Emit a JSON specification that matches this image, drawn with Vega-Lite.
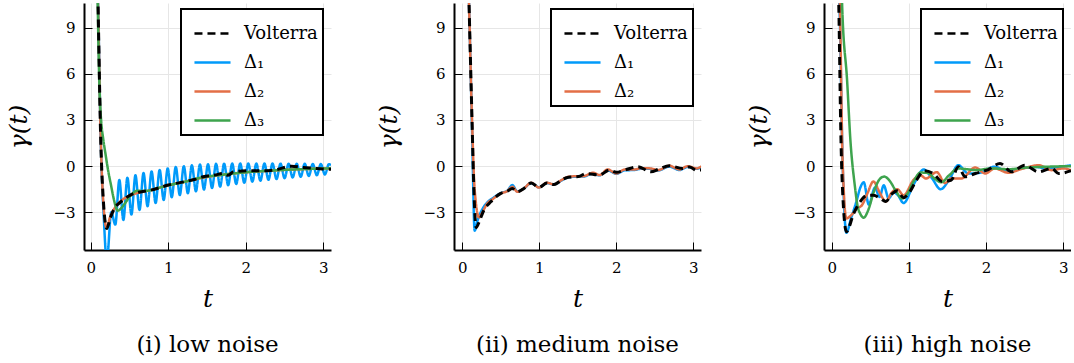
{
  "$schema": "https://vega.github.io/schema/vega-lite/v6.json",
  "padding": {"left": 6, "top": 3, "right": 0, "bottom": 0},
  "background": "white",
  "config": {
    "view": {"stroke": null},
    "font": "DejaVu Serif",
    "axis": {
      "domainColor": "black", "domainWidth": 2,
      "gridColor": "#e6e6e6", "gridWidth": 1,
      "tickColor": "black", "tickSize": -8, "tickWidth": 1,
      "labelFont": "DejaVu Serif", "labelFontSize": 15, "labelColor": "black",
      "titleFont": "DejaVu Serif", "titleFontSize": 25, "titleFontStyle": "italic",
      "titleFontWeight": "normal", "titleColor": "black"
    },
    "legend": {
      "orient": "none", "legendX": 97, "legendY": 6, "padding": 5, "symbolOffset": 7,
      "strokeColor": "black", "strokeWidth": 2, "fillColor": "white", "cornerRadius": 0,
      "symbolType": "stroke", "symbolSize": 1300, "symbolStrokeWidth": 2.5,
      "labelFont": "DejaVu Serif", "labelFontSize": 18, "labelColor": "black",
      "labelOffset": 12, "rowPadding": 0
    },
    "title": {"font": "DejaVu Serif", "fontSize": 23, "fontWeight": "normal", "color": "black", "orient": "bottom", "anchor": "middle", "offset": 23}
  },
  "datasets": {
    "p1": [
      {"t":0.08,"v":13,"series":"Δ₁"},{"t":0.094,"v":10.6,"series":"Δ₁"},{"t":0.13,"v":1.5,"series":"Δ₁"},{"t":0.17,"v":-3.5,"series":"Δ₁"},{"t":0.207,"v":-6.2,"series":"Δ₁"},
      {"t":0.265,"v":-3.0,"series":"Δ₁"},{"t":0.317,"v":-3.8,"series":"Δ₁"},{"t":0.369,"v":-0.9,"series":"Δ₁"},{"t":0.421,"v":-3.5,"series":"Δ₁"},{"t":0.473,"v":-0.75,"series":"Δ₁"},
      {"t":0.525,"v":-3.15,"series":"Δ₁"},{"t":0.577,"v":-0.6,"series":"Δ₁"},{"t":0.629,"v":-2.85,"series":"Δ₁"},{"t":0.681,"v":-0.45,"series":"Δ₁"},{"t":0.733,"v":-2.6,"series":"Δ₁"},
      {"t":0.785,"v":-0.35,"series":"Δ₁"},{"t":0.837,"v":-2.4,"series":"Δ₁"},{"t":0.889,"v":-0.25,"series":"Δ₁"},{"t":0.941,"v":-2.2,"series":"Δ₁"},{"t":0.993,"v":-0.15,"series":"Δ₁"},
      {"t":1.045,"v":-2.02,"series":"Δ₁"},{"t":1.097,"v":-0.05,"series":"Δ₁"},{"t":1.149,"v":-1.88,"series":"Δ₁"},{"t":1.201,"v":0.0,"series":"Δ₁"},{"t":1.253,"v":-1.76,"series":"Δ₁"},
      {"t":1.305,"v":0.05,"series":"Δ₁"},{"t":1.357,"v":-1.64,"series":"Δ₁"},{"t":1.409,"v":0.1,"series":"Δ₁"},{"t":1.461,"v":-1.52,"series":"Δ₁"},{"t":1.513,"v":0.12,"series":"Δ₁"},
      {"t":1.565,"v":-1.42,"series":"Δ₁"},{"t":1.617,"v":0.15,"series":"Δ₁"},{"t":1.669,"v":-1.33,"series":"Δ₁"},{"t":1.721,"v":0.16,"series":"Δ₁"},{"t":1.773,"v":-1.24,"series":"Δ₁"},
      {"t":1.825,"v":0.17,"series":"Δ₁"},{"t":1.877,"v":-1.16,"series":"Δ₁"},{"t":1.929,"v":0.17,"series":"Δ₁"},{"t":1.981,"v":-1.08,"series":"Δ₁"},{"t":2.033,"v":0.17,"series":"Δ₁"},
      {"t":2.085,"v":-1.01,"series":"Δ₁"},{"t":2.137,"v":0.17,"series":"Δ₁"},{"t":2.189,"v":-0.95,"series":"Δ₁"},{"t":2.241,"v":0.17,"series":"Δ₁"},{"t":2.293,"v":-0.89,"series":"Δ₁"},
      {"t":2.345,"v":0.17,"series":"Δ₁"},{"t":2.397,"v":-0.84,"series":"Δ₁"},{"t":2.449,"v":0.16,"series":"Δ₁"},{"t":2.501,"v":-0.79,"series":"Δ₁"},{"t":2.553,"v":0.16,"series":"Δ₁"},
      {"t":2.605,"v":-0.74,"series":"Δ₁"},{"t":2.657,"v":0.15,"series":"Δ₁"},{"t":2.709,"v":-0.69,"series":"Δ₁"},{"t":2.761,"v":0.15,"series":"Δ₁"},{"t":2.813,"v":-0.64,"series":"Δ₁"},
      {"t":2.865,"v":0.14,"series":"Δ₁"},{"t":2.917,"v":-0.59,"series":"Δ₁"},{"t":2.969,"v":0.14,"series":"Δ₁"},{"t":3.021,"v":-0.54,"series":"Δ₁"},{"t":3.073,"v":0.13,"series":"Δ₁"},{"t":3.1,"v":0.05,"series":"Δ₁"},
      {"t":0.08,"v":13.5,"series":"Δ₂"},{"t":0.094,"v":10.6,"series":"Δ₂"},{"t":0.13,"v":1.6,"series":"Δ₂"},{"t":0.16,"v":-2.2,"series":"Δ₂"},{"t":0.205,"v":-4.0,"series":"Δ₂"},
      {"t":0.25,"v":-3.3,"series":"Δ₂"},{"t":0.3,"v":-2.8,"series":"Δ₂"},{"t":0.38,"v":-2.3,"series":"Δ₂"},{"t":0.47,"v":-2.0,"series":"Δ₂"},{"t":0.56,"v":-1.8,"series":"Δ₂"},
      {"t":0.67,"v":-1.67,"series":"Δ₂"},{"t":0.78,"v":-1.55,"series":"Δ₂"},{"t":0.9,"v":-1.38,"series":"Δ₂"},{"t":1.0,"v":-1.25,"series":"Δ₂"},{"t":1.2,"v":-1.03,"series":"Δ₂"},
      {"t":1.45,"v":-0.75,"series":"Δ₂"},{"t":1.7,"v":-0.56,"series":"Δ₂"},{"t":2.0,"v":-0.4,"series":"Δ₂"},{"t":2.3,"v":-0.3,"series":"Δ₂"},{"t":2.6,"v":-0.22,"series":"Δ₂"},
      {"t":2.9,"v":-0.17,"series":"Δ₂"},{"t":3.1,"v":-0.15,"series":"Δ₂"},
      {"t":0.08,"v":14,"series":"Δ₃"},{"t":0.09,"v":10.6,"series":"Δ₃"},{"t":0.103,"v":7,"series":"Δ₃"},{"t":0.117,"v":4.5,"series":"Δ₃"},{"t":0.135,"v":2.9,"series":"Δ₃"},
      {"t":0.16,"v":1.8,"series":"Δ₃"},{"t":0.19,"v":0.8,"series":"Δ₃"},{"t":0.225,"v":-0.3,"series":"Δ₃"},{"t":0.26,"v":-1.2,"series":"Δ₃"},{"t":0.3,"v":-2.2,"series":"Δ₃"},
      {"t":0.33,"v":-2.75,"series":"Δ₃"},{"t":0.35,"v":-2.9,"series":"Δ₃"},{"t":0.39,"v":-2.75,"series":"Δ₃"},{"t":0.43,"v":-2.5,"series":"Δ₃"},{"t":0.517,"v":-1.9,"series":"Δ₃"},
      {"t":0.6,"v":-1.6,"series":"Δ₃"},{"t":0.69,"v":-1.62,"series":"Δ₃"},{"t":0.775,"v":-1.56,"series":"Δ₃"},{"t":0.9,"v":-1.38,"series":"Δ₃"},{"t":1.0,"v":-1.25,"series":"Δ₃"},
      {"t":1.2,"v":-1.03,"series":"Δ₃"},{"t":1.45,"v":-0.72,"series":"Δ₃"},{"t":1.7,"v":-0.56,"series":"Δ₃"},{"t":2.0,"v":-0.4,"series":"Δ₃"},{"t":2.3,"v":-0.3,"series":"Δ₃"},
      {"t":2.6,"v":-0.22,"series":"Δ₃"},{"t":2.9,"v":-0.17,"series":"Δ₃"},{"t":3.1,"v":-0.14,"series":"Δ₃"},
      {"t":0.085,"v":12.9,"series":"Volterra"},{"t":0.094,"v":10.6,"series":"Volterra"},{"t":0.129,"v":1.69,"series":"Volterra"},{"t":0.16,"v":-2.0,"series":"Volterra"},{"t":0.207,"v":-4.05,"series":"Volterra"},
      {"t":0.25,"v":-3.4,"series":"Volterra"},{"t":0.3,"v":-2.8,"series":"Volterra"},{"t":0.388,"v":-2.32,"series":"Volterra"},{"t":0.47,"v":-2.0,"series":"Volterra"},{"t":0.56,"v":-1.77,"series":"Volterra"},
      {"t":0.67,"v":-1.65,"series":"Volterra"},{"t":0.775,"v":-1.56,"series":"Volterra"},{"t":0.9,"v":-1.38,"series":"Volterra"},{"t":1.0,"v":-1.23,"series":"Volterra"},{"t":1.1,"v":-1.12,"series":"Volterra"},
      {"t":1.205,"v":-1.02,"series":"Volterra"},{"t":1.35,"v":-0.85,"series":"Volterra"},{"t":1.45,"v":-0.69,"series":"Volterra"},{"t":1.6,"v":-0.58,"series":"Volterra"},{"t":1.71,"v":-0.48,"series":"Volterra"},
      {"t":1.77,"v":-0.6,"series":"Volterra"},{"t":1.84,"v":-0.37,"series":"Volterra"},{"t":2.03,"v":-0.3,"series":"Volterra"},{"t":2.25,"v":-0.3,"series":"Volterra"},{"t":2.4,"v":-0.22,"series":"Volterra"},
      {"t":2.59,"v":0.0,"series":"Volterra"},{"t":2.74,"v":-0.09,"series":"Volterra"},{"t":2.91,"v":-0.15,"series":"Volterra"},{"t":3.04,"v":-0.2,"series":"Volterra"},{"t":3.1,"v":-0.2,"series":"Volterra"}
    ],
    "p2": [
      {"t":0.075,"v":13,"series":"Δ₁"},{"t":0.087,"v":10.6,"series":"Δ₁"},{"t":0.126,"v":2.5,"series":"Δ₁"},{"t":0.16,"v":-4.2,"series":"Δ₁"},{"t":0.2,"v":-3.5,"series":"Δ₁"},
      {"t":0.26,"v":-2.8,"series":"Δ₁"},{"t":0.325,"v":-2.35,"series":"Δ₁"},{"t":0.39,"v":-2.1,"series":"Δ₁"},{"t":0.5,"v":-1.75,"series":"Δ₁"},{"t":0.585,"v":-1.6,"series":"Δ₁"},
      {"t":0.65,"v":-1.23,"series":"Δ₁"},{"t":0.715,"v":-1.65,"series":"Δ₁"},{"t":0.8,"v":-1.45,"series":"Δ₁"},{"t":0.895,"v":-1.1,"series":"Δ₁"},{"t":0.995,"v":-1.38,"series":"Δ₁"},
      {"t":1.1,"v":-1.1,"series":"Δ₁"},{"t":1.19,"v":-1.2,"series":"Δ₁"},{"t":1.3,"v":-0.9,"series":"Δ₁"},{"t":1.38,"v":-0.72,"series":"Δ₁"},{"t":1.51,"v":-0.68,"series":"Δ₁"},
      {"t":1.57,"v":-0.68,"series":"Δ₁"},{"t":1.7,"v":-0.47,"series":"Δ₁"},{"t":1.78,"v":-0.6,"series":"Δ₁"},{"t":1.89,"v":-0.27,"series":"Δ₁"},{"t":2.0,"v":-0.5,"series":"Δ₁"},
      {"t":2.11,"v":-0.27,"series":"Δ₁"},{"t":2.24,"v":-0.25,"series":"Δ₁"},{"t":2.32,"v":-0.17,"series":"Δ₁"},{"t":2.45,"v":-0.18,"series":"Δ₁"},{"t":2.54,"v":-0.28,"series":"Δ₁"},
      {"t":2.69,"v":-0.03,"series":"Δ₁"},{"t":2.82,"v":-0.25,"series":"Δ₁"},{"t":2.93,"v":-0.05,"series":"Δ₁"},{"t":3.04,"v":-0.17,"series":"Δ₁"},{"t":3.11,"v":-0.05,"series":"Δ₁"},
      {"t":0.075,"v":13,"series":"Δ₂"},{"t":0.087,"v":10.6,"series":"Δ₂"},{"t":0.126,"v":3.0,"series":"Δ₂"},{"t":0.16,"v":-1.5,"series":"Δ₂"},{"t":0.217,"v":-3.33,"series":"Δ₂"},
      {"t":0.26,"v":-3.0,"series":"Δ₂"},{"t":0.325,"v":-2.42,"series":"Δ₂"},{"t":0.39,"v":-2.16,"series":"Δ₂"},{"t":0.5,"v":-1.77,"series":"Δ₂"},{"t":0.585,"v":-1.62,"series":"Δ₂"},
      {"t":0.65,"v":-1.34,"series":"Δ₂"},{"t":0.715,"v":-1.67,"series":"Δ₂"},{"t":0.8,"v":-1.45,"series":"Δ₂"},{"t":0.895,"v":-1.08,"series":"Δ₂"},{"t":0.995,"v":-1.39,"series":"Δ₂"},
      {"t":1.1,"v":-1.08,"series":"Δ₂"},{"t":1.19,"v":-1.19,"series":"Δ₂"},{"t":1.3,"v":-0.87,"series":"Δ₂"},{"t":1.38,"v":-0.69,"series":"Δ₂"},{"t":1.51,"v":-0.65,"series":"Δ₂"},
      {"t":1.57,"v":-0.65,"series":"Δ₂"},{"t":1.7,"v":-0.43,"series":"Δ₂"},{"t":1.78,"v":-0.58,"series":"Δ₂"},{"t":1.89,"v":-0.22,"series":"Δ₂"},{"t":2.0,"v":-0.48,"series":"Δ₂"},
      {"t":2.11,"v":-0.22,"series":"Δ₂"},{"t":2.24,"v":-0.22,"series":"Δ₂"},{"t":2.32,"v":-0.13,"series":"Δ₂"},{"t":2.45,"v":-0.15,"series":"Δ₂"},{"t":2.54,"v":-0.26,"series":"Δ₂"},
      {"t":2.69,"v":0.02,"series":"Δ₂"},{"t":2.82,"v":-0.22,"series":"Δ₂"},{"t":2.93,"v":0.0,"series":"Δ₂"},{"t":3.04,"v":-0.15,"series":"Δ₂"},{"t":3.11,"v":0.0,"series":"Δ₂"},
      {"t":0.075,"v":13,"series":"Volterra"},{"t":0.087,"v":10.6,"series":"Volterra"},{"t":0.126,"v":3.0,"series":"Volterra"},{"t":0.15,"v":-1.5,"series":"Volterra"},{"t":0.18,"v":-4.0,"series":"Volterra"},
      {"t":0.22,"v":-3.6,"series":"Volterra"},{"t":0.28,"v":-2.86,"series":"Volterra"},{"t":0.37,"v":-2.32,"series":"Volterra"},{"t":0.5,"v":-1.77,"series":"Volterra"},{"t":0.585,"v":-1.62,"series":"Volterra"},
      {"t":0.65,"v":-1.45,"series":"Volterra"},{"t":0.715,"v":-1.67,"series":"Volterra"},{"t":0.8,"v":-1.45,"series":"Volterra"},{"t":0.895,"v":-1.1,"series":"Volterra"},{"t":0.995,"v":-1.38,"series":"Volterra"},
      {"t":1.1,"v":-1.1,"series":"Volterra"},{"t":1.19,"v":-1.19,"series":"Volterra"},{"t":1.3,"v":-0.87,"series":"Volterra"},{"t":1.38,"v":-0.72,"series":"Volterra"},{"t":1.51,"v":-0.68,"series":"Volterra"},
      {"t":1.61,"v":-0.48,"series":"Volterra"},{"t":1.78,"v":-0.58,"series":"Volterra"},{"t":1.91,"v":-0.26,"series":"Volterra"},{"t":2.0,"v":-0.4,"series":"Volterra"},{"t":2.13,"v":-0.22,"series":"Volterra"},
      {"t":2.28,"v":-0.04,"series":"Volterra"},{"t":2.45,"v":-0.37,"series":"Volterra"},{"t":2.55,"v":-0.2,"series":"Volterra"},{"t":2.69,"v":0.02,"series":"Volterra"},{"t":2.86,"v":-0.15,"series":"Volterra"},
      {"t":2.95,"v":-0.05,"series":"Volterra"},{"t":3.04,"v":-0.26,"series":"Volterra"},{"t":3.1,"v":-0.25,"series":"Volterra"}
    ],
    "p3": [
      {"t":0.08,"v":13,"series":"Δ₁"},{"t":0.1,"v":10.6,"series":"Δ₁"},{"t":0.14,"v":0.5,"series":"Δ₁"},{"t":0.19,"v":-4.33,"series":"Δ₁"},{"t":0.25,"v":-3.4,"series":"Δ₁"},
      {"t":0.32,"v":-2.3,"series":"Δ₁"},{"t":0.37,"v":-1.4,"series":"Δ₁"},{"t":0.415,"v":-1.05,"series":"Δ₁"},{"t":0.48,"v":-2.5,"series":"Δ₁"},{"t":0.56,"v":-1.4,"series":"Δ₁"},
      {"t":0.62,"v":-2.0,"series":"Δ₁"},{"t":0.674,"v":-1.25,"series":"Δ₁"},{"t":0.738,"v":-2.1,"series":"Δ₁"},{"t":0.8,"v":-1.7,"series":"Δ₁"},{"t":0.86,"v":-1.9,"series":"Δ₁"},
      {"t":0.93,"v":-2.4,"series":"Δ₁"},{"t":1.06,"v":-1.2,"series":"Δ₁"},{"t":1.192,"v":-0.22,"series":"Δ₁"},{"t":1.3,"v":-0.8,"series":"Δ₁"},{"t":1.41,"v":-1.5,"series":"Δ₁"},
      {"t":1.52,"v":-0.9,"series":"Δ₁"},{"t":1.64,"v":0.06,"series":"Δ₁"},{"t":1.77,"v":-0.48,"series":"Δ₁"},{"t":1.9,"v":-0.45,"series":"Δ₁"},{"t":2.11,"v":-0.04,"series":"Δ₁"},
      {"t":2.29,"v":-0.37,"series":"Δ₁"},{"t":2.46,"v":-0.15,"series":"Δ₁"},{"t":2.63,"v":-0.05,"series":"Δ₁"},{"t":2.81,"v":-0.15,"series":"Δ₁"},{"t":2.95,"v":-0.05,"series":"Δ₁"},{"t":3.1,"v":0.05,"series":"Δ₁"},
      {"t":0.08,"v":13,"series":"Δ₂"},{"t":0.105,"v":10.6,"series":"Δ₂"},{"t":0.14,"v":0.5,"series":"Δ₂"},{"t":0.19,"v":-3.4,"series":"Δ₂"},{"t":0.25,"v":-3.2,"series":"Δ₂"},
      {"t":0.33,"v":-2.74,"series":"Δ₂"},{"t":0.39,"v":-2.55,"series":"Δ₂"},{"t":0.46,"v":-1.8,"series":"Δ₂"},{"t":0.54,"v":-1.0,"series":"Δ₂"},{"t":0.62,"v":-1.7,"series":"Δ₂"},
      {"t":0.7,"v":-2.3,"series":"Δ₂"},{"t":0.78,"v":-1.7,"series":"Δ₂"},{"t":0.85,"v":-1.5,"series":"Δ₂"},{"t":0.93,"v":-1.9,"series":"Δ₂"},{"t":1.06,"v":-0.9,"series":"Δ₂"},
      {"t":1.15,"v":-0.6,"series":"Δ₂"},{"t":1.22,"v":-0.8,"series":"Δ₂"},{"t":1.36,"v":-0.39,"series":"Δ₂"},{"t":1.47,"v":-1.1,"series":"Δ₂"},{"t":1.55,"v":-0.8,"series":"Δ₂"},
      {"t":1.68,"v":-0.8,"series":"Δ₂"},{"t":1.86,"v":-0.09,"series":"Δ₂"},{"t":1.99,"v":-0.48,"series":"Δ₂"},{"t":2.11,"v":-0.15,"series":"Δ₂"},{"t":2.29,"v":-0.43,"series":"Δ₂"},
      {"t":2.45,"v":-0.2,"series":"Δ₂"},{"t":2.68,"v":0.06,"series":"Δ₂"},{"t":2.85,"v":-0.26,"series":"Δ₂"},{"t":3.0,"v":-0.15,"series":"Δ₂"},{"t":3.1,"v":-0.26,"series":"Δ₂"},
      {"t":0.12,"v":13,"series":"Δ₃"},{"t":0.134,"v":10.6,"series":"Δ₃"},{"t":0.2,"v":5.5,"series":"Δ₃"},{"t":0.242,"v":1.69,"series":"Δ₃"},{"t":0.3,"v":-1.3,"series":"Δ₃"},
      {"t":0.335,"v":-2.6,"series":"Δ₃"},{"t":0.37,"v":-3.1,"series":"Δ₃"},{"t":0.415,"v":-3.35,"series":"Δ₃"},{"t":0.47,"v":-2.9,"series":"Δ₃"},{"t":0.55,"v":-1.6,"series":"Δ₃"},
      {"t":0.62,"v":-0.85,"series":"Δ₃"},{"t":0.68,"v":-0.68,"series":"Δ₃"},{"t":0.75,"v":-0.95,"series":"Δ₃"},{"t":0.83,"v":-1.6,"series":"Δ₃"},{"t":0.91,"v":-2.1,"series":"Δ₃"},
      {"t":0.98,"v":-1.8,"series":"Δ₃"},{"t":1.06,"v":-1.0,"series":"Δ₃"},{"t":1.15,"v":-0.42,"series":"Δ₃"},{"t":1.25,"v":-0.45,"series":"Δ₃"},{"t":1.33,"v":-0.8,"series":"Δ₃"},
      {"t":1.42,"v":-1.05,"series":"Δ₃"},{"t":1.52,"v":-0.6,"series":"Δ₃"},{"t":1.64,"v":-0.15,"series":"Δ₃"},{"t":1.75,"v":-0.2,"series":"Δ₃"},{"t":1.86,"v":-0.26,"series":"Δ₃"},
      {"t":2.07,"v":-0.15,"series":"Δ₃"},{"t":2.29,"v":-0.2,"series":"Δ₃"},{"t":2.5,"v":-0.1,"series":"Δ₃"},{"t":2.72,"v":-0.05,"series":"Δ₃"},{"t":3.1,"v":0.0,"series":"Δ₃"},
      {"t":0.08,"v":13,"series":"Volterra"},{"t":0.091,"v":10.6,"series":"Volterra"},{"t":0.12,"v":1.69,"series":"Volterra"},{"t":0.15,"v":-2.5,"series":"Volterra"},{"t":0.19,"v":-4.26,"series":"Volterra"},
      {"t":0.285,"v":-3.07,"series":"Volterra"},{"t":0.37,"v":-2.3,"series":"Volterra"},{"t":0.46,"v":-1.9,"series":"Volterra"},{"t":0.54,"v":-1.9,"series":"Volterra"},{"t":0.63,"v":-2.1,"series":"Volterra"},
      {"t":0.7,"v":-2.3,"series":"Volterra"},{"t":0.78,"v":-1.8,"series":"Volterra"},{"t":0.85,"v":-1.6,"series":"Volterra"},{"t":0.93,"v":-2.05,"series":"Volterra"},{"t":1.0,"v":-1.75,"series":"Volterra"},
      {"t":1.1,"v":-0.9,"series":"Volterra"},{"t":1.2,"v":-0.3,"series":"Volterra"},{"t":1.32,"v":-0.5,"series":"Volterra"},{"t":1.43,"v":-1.0,"series":"Volterra"},{"t":1.55,"v":-0.9,"series":"Volterra"},
      {"t":1.64,"v":-0.04,"series":"Volterra"},{"t":1.73,"v":-0.69,"series":"Volterra"},{"t":1.86,"v":-0.48,"series":"Volterra"},{"t":2.03,"v":-0.22,"series":"Volterra"},{"t":2.18,"v":0.17,"series":"Volterra"},
      {"t":2.33,"v":-0.37,"series":"Volterra"},{"t":2.5,"v":0.06,"series":"Volterra"},{"t":2.68,"v":-0.37,"series":"Volterra"},{"t":2.85,"v":-0.15,"series":"Volterra"},{"t":2.94,"v":-0.48,"series":"Volterra"},{"t":3.1,"v":-0.3,"series":"Volterra"}
    ]
  },
  "hconcat": [
    {
      "width": 247, "height": 247,
      "title": {"text": "(i) low noise"},
      "data": {"name": "p1"},
      "encoding": {
        "x": {"field": "t", "type": "quantitative", "scale": {"domain": [-0.087, 3.1], "nice": false, "zero": false}, "axis": {"values": [0, 1, 2, 3], "title": "t", "labelPadding": 18, "titlePadding": 11}},
        "y": {"field": "v", "type": "quantitative", "scale": {"domain": [-5.45, 10.6], "nice": false, "zero": false}, "axis": {"values": [-3, 0, 3, 6, 9], "title": "γ(t)", "labelPadding": 17, "titlePadding": 21}},
        "color": {"field": "series", "type": "nominal", "scale": {"domain": ["Volterra", "Δ₁", "Δ₂", "Δ₃"], "range": ["#000000", "#009AFA", "#E36F47", "#3EA44E"]}, "legend": {"title": null}},
        "strokeDash": {"field": "series", "type": "nominal", "scale": {"domain": ["Volterra", "Δ₁", "Δ₂", "Δ₃"], "range": [[8, 5], [1, 0], [1, 0], [1, 0]]}, "legend": {"title": null}}
      },
      "layer": [
        {"transform": [{"filter": "datum.series !== 'Volterra'"}], "mark": {"type": "line", "clip": true, "interpolate": "monotone", "strokeWidth": 2.5}},
        {"transform": [{"filter": "datum.series === 'Volterra'"}], "mark": {"type": "line", "clip": true, "interpolate": "monotone", "strokeWidth": 3}}
      ]
    },
    {
      "width": 247, "height": 247,
      "title": {"text": "(ii) medium noise"},
      "data": {"name": "p2"},
      "encoding": {
        "x": {"field": "t", "type": "quantitative", "scale": {"domain": [-0.108, 3.1], "nice": false, "zero": false}, "axis": {"values": [0, 1, 2, 3], "title": "t", "labelPadding": 18, "titlePadding": 11}},
        "y": {"field": "v", "type": "quantitative", "scale": {"domain": [-5.45, 10.6], "nice": false, "zero": false}, "axis": {"values": [-3, 0, 3, 6, 9], "title": "γ(t)", "labelPadding": 17, "titlePadding": 21}},
        "color": {"field": "series", "type": "nominal", "scale": {"domain": ["Volterra", "Δ₁", "Δ₂"], "range": ["#000000", "#009AFA", "#E36F47"]}, "legend": {"title": null}},
        "strokeDash": {"field": "series", "type": "nominal", "scale": {"domain": ["Volterra", "Δ₁", "Δ₂"], "range": [[8, 5], [1, 0], [1, 0]]}, "legend": {"title": null}}
      },
      "layer": [
        {"transform": [{"filter": "datum.series !== 'Volterra'"}], "mark": {"type": "line", "clip": true, "interpolate": "monotone", "strokeWidth": 2.5}},
        {"transform": [{"filter": "datum.series === 'Volterra'"}], "mark": {"type": "line", "clip": true, "interpolate": "monotone", "strokeWidth": 3}}
      ]
    },
    {
      "width": 247, "height": 247,
      "title": {"text": "(iii) high noise"},
      "data": {"name": "p3"},
      "encoding": {
        "x": {"field": "t", "type": "quantitative", "scale": {"domain": [-0.1, 3.1], "nice": false, "zero": false}, "axis": {"values": [0, 1, 2, 3], "title": "t", "labelPadding": 18, "titlePadding": 11}},
        "y": {"field": "v", "type": "quantitative", "scale": {"domain": [-5.45, 10.6], "nice": false, "zero": false}, "axis": {"values": [-3, 0, 3, 6, 9], "title": "γ(t)", "labelPadding": 17, "titlePadding": 21}},
        "color": {"field": "series", "type": "nominal", "scale": {"domain": ["Volterra", "Δ₁", "Δ₂", "Δ₃"], "range": ["#000000", "#009AFA", "#E36F47", "#3EA44E"]}, "legend": {"title": null}},
        "strokeDash": {"field": "series", "type": "nominal", "scale": {"domain": ["Volterra", "Δ₁", "Δ₂", "Δ₃"], "range": [[8, 5], [1, 0], [1, 0], [1, 0]]}, "legend": {"title": null}}
      },
      "layer": [
        {"transform": [{"filter": "datum.series !== 'Volterra'"}], "mark": {"type": "line", "clip": true, "interpolate": "monotone", "strokeWidth": 2.5}},
        {"transform": [{"filter": "datum.series === 'Volterra'"}], "mark": {"type": "line", "clip": true, "interpolate": "monotone", "strokeWidth": 3}}
      ]
    }
  ],
  "spacing": 123,
  "bounds": "flush",
  "resolve": {"scale": {"x": "independent", "y": "independent", "color": "independent", "strokeDash": "independent"}, "legend": {"color": "independent", "strokeDash": "independent"}}
}
